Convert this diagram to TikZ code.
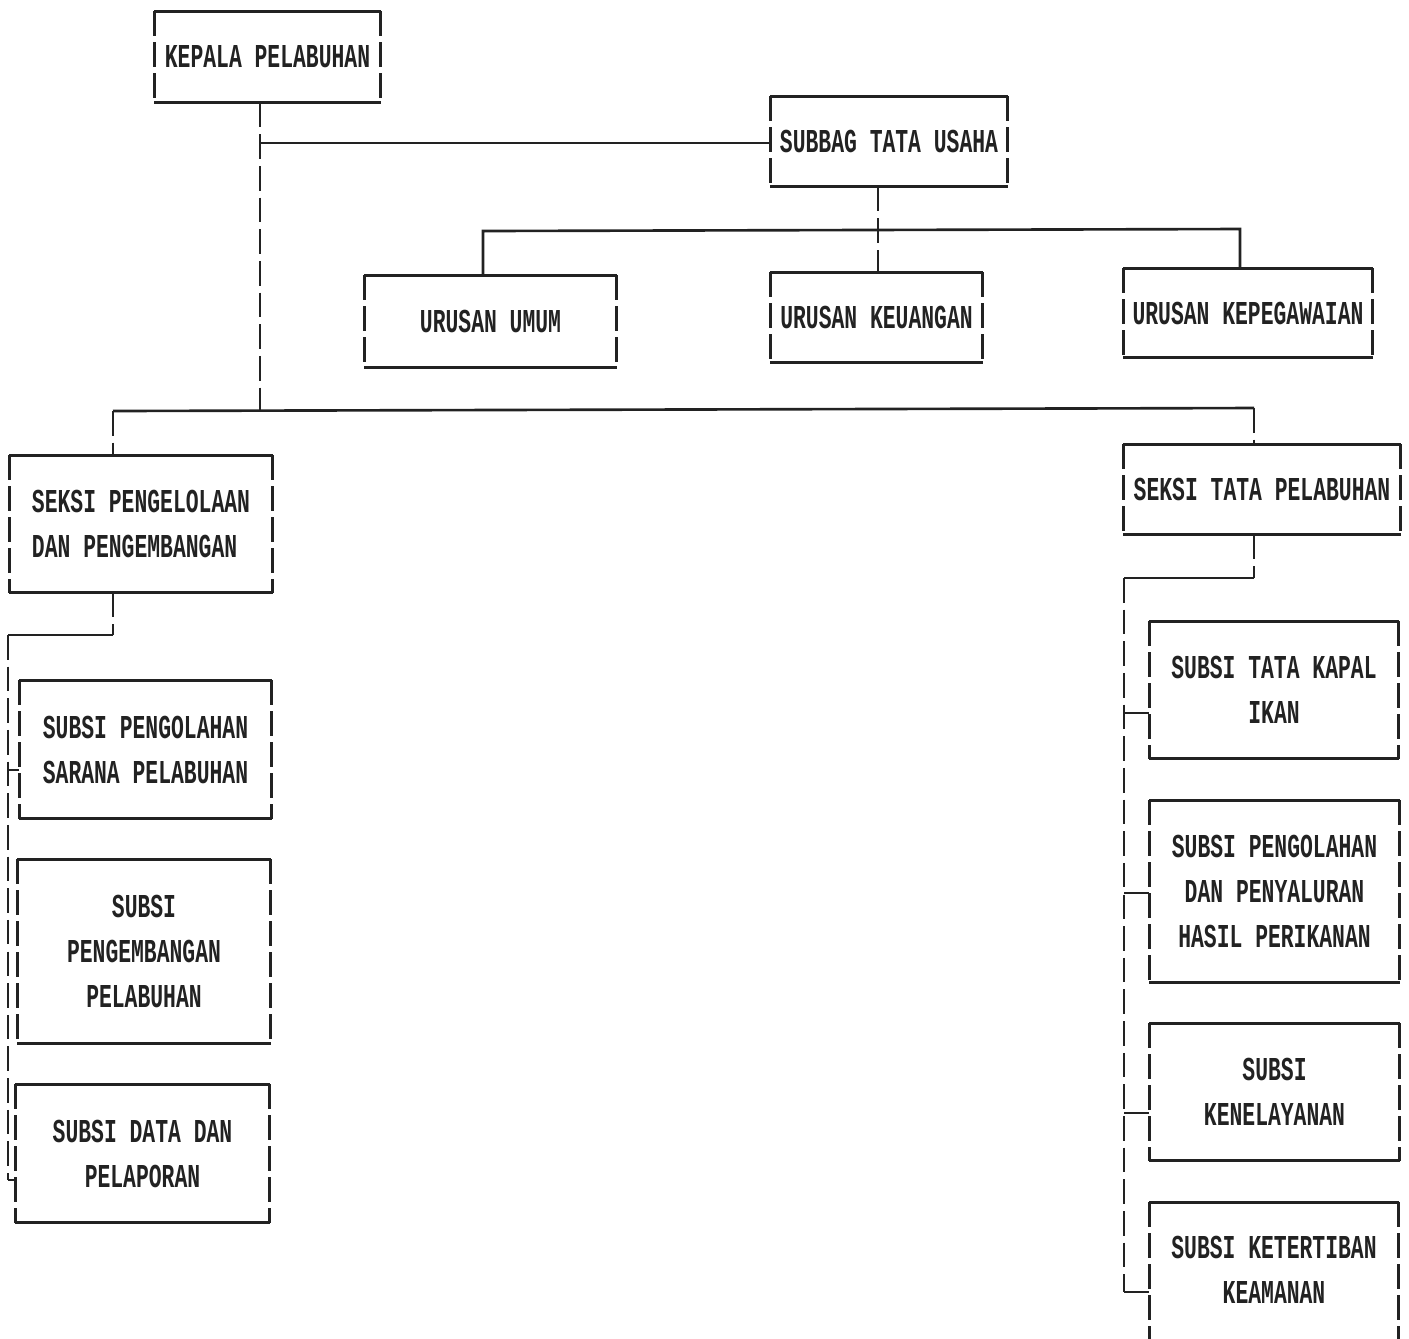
\documentclass[tikz,border=0pt]{standalone}
\usepackage{fontspec}
\newfontfamily\tw[FakeStretch=0.64]{Liberation Mono}
\usetikzlibrary{calc}
\definecolor{ink}{HTML}{222222}
\tikzset{
  lbl/.style={rectangle, inner sep=0pt, text=ink, font=\tw\bfseries\fontsize{9.5}{12.8}\selectfont, align=center},
  edgeh/.style={draw=ink, line width=0.75pt},
  edgev/.style={draw=ink, line width=0.75pt, dash pattern=on 7pt off 1.8pt},
  conh/.style={draw=ink, line width=0.75pt},
  conv/.style={draw=ink, line width=0.75pt, dash pattern=on 7pt off 2pt},
}
\newcommand\boxedges[1]{%
  \draw[edgeh] (#1.north west) -- (#1.north east) (#1.south west) -- (#1.south east);
  \draw[edgev] (#1.north west) -- (#1.south west) (#1.north east) -- (#1.south east);}
\begin{document}
\begin{tikzpicture}[x=0.01cm,y=-0.01cm]
\useasboundingbox[fill=white] (0,0) rectangle (1409,1338);
% boxes
\node[lbl, minimum width=2.25cm, minimum height=0.90cm] (kep) at (267.5,57) {KEPALA PELABUHAN};
\node[lbl, minimum width=2.36cm, minimum height=0.89cm] (sub) at (889,141.5) {SUBBAG TATA USAHA};
\node[lbl, minimum width=2.51cm, minimum height=0.91cm] (umu) at (490.5,321.5) {URUSAN UMUM};
\node[lbl, minimum width=2.11cm, minimum height=0.89cm] (keu) at (876.5,317.5) {URUSAN KEUANGAN};
\node[lbl, minimum width=2.48cm, minimum height=0.88cm] (peg) at (1248,313) {URUSAN KEPEGAWAIAN};
\node[lbl, align=left, minimum width=2.62cm, minimum height=1.36cm] (spk) at (141,524) {SEKSI PENGELOLAAN\\DAN PENGEMBANGAN};
\node[lbl, minimum width=2.76cm, minimum height=0.89cm] (stp) at (1262,489.5) {SEKSI TATA PELABUHAN};
\node[lbl, minimum width=2.51cm, minimum height=1.37cm] (s1) at (145.5,749.5) {SUBSI PENGOLAHAN\\SARANA PELABUHAN};
\node[lbl, minimum width=2.52cm, minimum height=1.83cm] (s2) at (144,951.5) {SUBSI\\PENGEMBANGAN\\PELABUHAN};
\node[lbl, minimum width=2.53cm, minimum height=1.37cm] (s3) at (142.5,1153.5) {SUBSI DATA DAN\\PELAPORAN};
\node[lbl, minimum width=2.48cm, minimum height=1.36cm] (t1) at (1274,690) {SUBSI TATA KAPAL\\IKAN};
\node[lbl, minimum width=2.49cm, minimum height=1.81cm] (t2) at (1274.5,891.5) {SUBSI PENGOLAHAN\\DAN PENYALURAN\\HASIL PERIKANAN};
\node[lbl, minimum width=2.49cm, minimum height=1.36cm] (t3) at (1274.5,1092) {SUBSI\\KENELAYANAN};
\node[lbl, minimum width=2.48cm, minimum height=1.34cm] (t4) at (1274,1270) {SUBSI KETERTIBAN\\KEAMANAN};
\foreach \b in {kep,sub,umu,keu,peg,spk,stp,s1,s2,s3,t1,t2,t3}{\boxedges{\b}}
\draw[edgeh] (t4.north west) -- (t4.north east);
\draw[edgev] (t4.north west) -- ([yshift=-2cm]t4.north west) (t4.north east) -- ([yshift=-2cm]t4.north east);
% junctions
\coordinate (jA) at (260,143);
\coordinate (jB) at (260,410);
\coordinate (jC) at (878,230);
\coordinate (uL) at (483,231);
\coordinate (uR) at (1240,229);
\coordinate (sL) at (113,411);
\coordinate (sR) at (1254,408);
\coordinate (lA) at (113,635);
\coordinate (lB) at (8,635);
\coordinate (lT1) at (8,770);
\coordinate (lC) at (8,1180);
\coordinate (rA) at (1254,578);
\coordinate (rB) at (1124,578);
\coordinate (rT1) at (1124,713);
\coordinate (rT2) at (1124,893);
\coordinate (rT3) at (1124,1113);
\coordinate (rC) at (1124,1292);
% connectors
\draw[conv] (kep.south -| jA) -- (jB);
\draw[conh] (jA) -- (jA -| sub.west);
\draw[conv] (sub.south -| jC) -- (keu.north -| jC);
\draw[conh] (umu.north -| uL) -- (uL) -- (uR) -- (peg.north -| uR);
\draw[conh] (sL) -- (sR);
\draw[conv] (sL) -- (spk.north -| sL);
\draw[conv] (sR) -- (stp.north -| sR);
\draw[conv] (spk.south -| lA) -- (lA);
\draw[conh] (lA) -- (lB);
\draw[conv] (lB) -- (lC);
\draw[conh] (lC) -- (lC -| s3.west);
\draw[conh] (lT1) -- (lT1 -| s1.west);
\draw[conv] (stp.south -| rA) -- (rA);
\draw[conh] (rA) -- (rB);
\draw[conv] (rB) -- (rC);
\draw[conh] (rC) -- (rC -| t4.west);
\draw[conh] (rT1) -- (rT1 -| t1.west);
\draw[conh] (rT2) -- (rT2 -| t2.west);
\draw[conh] (rT3) -- (rT3 -| t3.west);
\end{tikzpicture}
\end{document}
